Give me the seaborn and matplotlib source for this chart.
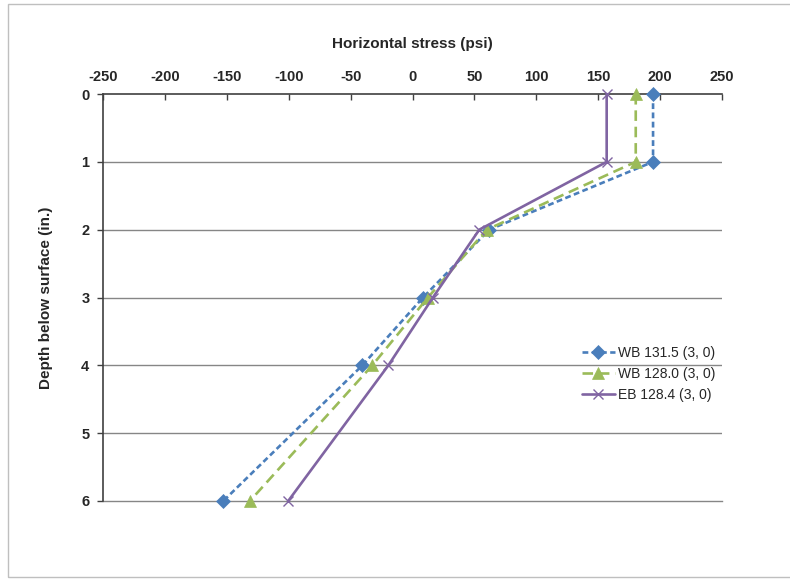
import matplotlib
matplotlib.use("Agg")
import matplotlib.pyplot as plt
from matplotlib.patches import Rectangle
import seaborn as sns
import pandas as pd

depth = [0, 1, 2, 3, 4, 6]
wb1315 = [194.5, 194.5, 62, 8.5, -40.5, -153]
wb1280 = [180.5, 180.5, 60, 12.5, -32.5, -131.5]
eb1284 = [157, 157, 54, 16.5, -19.5, -100.5]
series_names = ["WB 131.5 (3, 0)", "WB 128.0 (3, 0)", "EB 128.4 (3, 0)"]
x_ticks = [-250, -200, -150, -100, -50, 0, 50, 100, 150, 200, 250]
y_ticks = [0, 1, 2, 3, 4, 5, 6]

sns.set_style("white")
plt.rcParams['font.family'] = ['Liberation Sans', 'DejaVu Sans']
plt.rcParams['axes.unicode_minus'] = False

fig = plt.figure(figsize=(7.9, 5.79), dpi=100)
fig.patches.append(Rectangle((8/790, 1 - 577/579), 1.0, (577 - 4)/579, transform=fig.transFigure,
                             fill=False, edgecolor="#bfbfbf", linewidth=1.0))
ax = fig.add_axes([103.3/790, 1 - 501/579, (721.7 - 103.3)/790, (501 - 94)/579])

styles = [
    dict(color="#4A7EBB", dashes=(2.2, 1.3), marker="D", markersize=7, lw=1.9),
    dict(color="#9BBB59", dashes=(4, 2.2), marker="^", markersize=8.5, lw=1.9),
    dict(color="#8064A2", dashes=None, marker="x", markersize=6.5, lw=1.9),
]
data = [wb1315, wb1280, eb1284]
handles = []
for name, vals, st in zip(series_names, data, styles):
    df = pd.DataFrame({"stress": vals, "depth": depth})
    sns.lineplot(data=df, x="stress", y="depth", sort=False, estimator=None, ax=ax,
                 color=st["color"], marker=st["marker"], markersize=st["markersize"],
                 markeredgecolor=st["color"], markeredgewidth=1.0 if st["marker"] == "x" else 0.5,
                 linewidth=st["lw"], label=name, clip_on=False, zorder=5)
    line = ax.get_lines()[-1]
    if st["dashes"] is not None:
        line.set_dashes(st["dashes"])
    handles.append(line)

ax.set_xlim(-250, 250)
ax.set_ylim(6, 0)
ax.set_xticks(x_ticks)
ax.set_yticks(y_ticks)
ax.xaxis.tick_top()
ax.xaxis.set_label_position("top")
ax.tick_params(axis="x", direction="in", length=4, width=1, color="#404040", pad=7,
               labelsize=10.5, top=True, bottom=False)
ax.tick_params(axis="y", direction="out", length=4, width=1, color="#404040", pad=6,
               labelsize=10.5, left=True)
for lab in ax.get_xticklabels() + ax.get_yticklabels():
    lab.set_fontweight("bold")

ax.grid(False)
for yv in y_ticks[1:-1]:
    ax.axhline(yv, color="#868686", lw=1.0, zorder=0)

ax.spines["right"].set_visible(False)
ax.spines["bottom"].set_color("#868686")
ax.spines["bottom"].set_linewidth(1.0)
for s in ["top", "left"]:
    ax.spines[s].set_color("#404040")
    ax.spines[s].set_linewidth(1.2)
    ax.spines[s].set_zorder(3)

ax.set_xlabel("Horizontal stress (psi)", fontsize=11, fontweight="bold", labelpad=16)
ax.set_ylabel("Depth below surface (in.)", fontsize=11, fontweight="bold", labelpad=20)

leg = ax.legend(handles=handles, labels=series_names, loc="upper left",
                bbox_to_anchor=(576/790, 1 - 340/579), bbox_transform=fig.transFigure,
                frameon=False, fontsize=10, handlelength=2.4, handletextpad=0.2,
                labelspacing=0.52, borderaxespad=0)

fig.savefig("out.png", dpi=100)
